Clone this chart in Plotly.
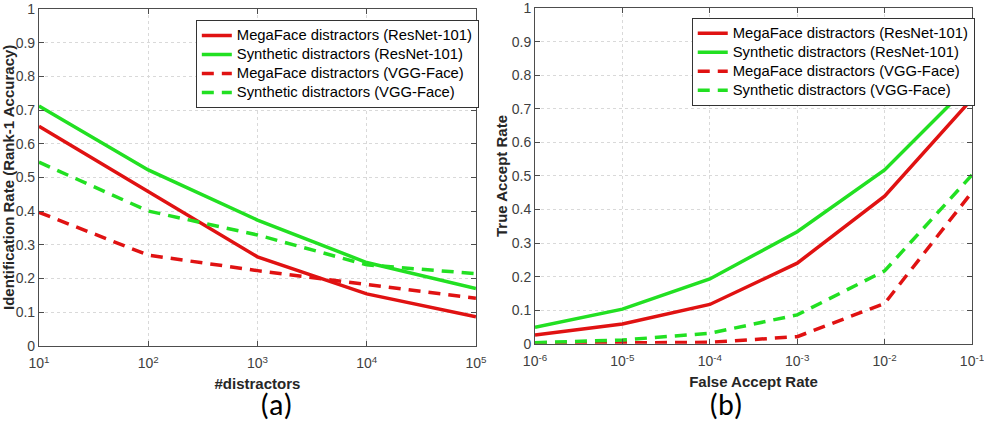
import plotly.graph_objects as go

# (a) identification rate vs number of distractors
distractors = [1e1, 1e2, 1e3, 1e4, 1e5]
ident_mega_resnet = [0.652, 0.457, 0.264, 0.154, 0.086]
ident_synth_resnet = [0.712, 0.522, 0.373, 0.247, 0.170]
ident_mega_vgg = [0.396, 0.269, 0.223, 0.183, 0.141]
ident_synth_vgg = [0.545, 0.400, 0.329, 0.240, 0.214]

# (b) true accept rate vs false accept rate
far = [1e-6, 1e-5, 1e-4, 1e-3, 1e-2, 1e-1]
tar_mega_resnet = [0.026, 0.059, 0.117, 0.240, 0.440, 0.730]
tar_synth_resnet = [0.049, 0.103, 0.193, 0.334, 0.518, 0.779]
tar_mega_vgg = [0.001, 0.002, 0.004, 0.021, 0.120, 0.452]
tar_synth_vgg = [0.003, 0.011, 0.031, 0.086, 0.217, 0.503]

series_names = [
    "MegaFace distractors (ResNet-101)",
    "Synthetic distractors (ResNet-101)",
    "MegaFace distractors (VGG-Face)",
    "Synthetic distractors (VGG-Face)",
]
RED = "#e01212"
GREEN = "#22e022"
styles = [(RED, "solid"), (GREEN, "solid"), (RED, "12px,8px"), (GREEN, "12px,8px")]

fig = go.Figure()

# legend rows are tighter than plotly's default, so the entry text is sized inline
def legend_label(s):
    return '<span style="font-size:14.8px">%s</span>' % s

left = [ident_mega_resnet, ident_synth_resnet, ident_mega_vgg, ident_synth_vgg]
for name, ys, (col, dash) in zip(series_names, left, styles):
    fig.add_trace(go.Scatter(x=distractors, y=ys, mode="lines", name=legend_label(name),
                             line=dict(color=col, width=3.5, dash=dash),
                             xaxis="x", yaxis="y", legend="legend"))

right = [tar_mega_resnet, tar_synth_resnet, tar_mega_vgg, tar_synth_vgg]
for name, ys, (col, dash) in zip(series_names, right, styles):
    fig.add_trace(go.Scatter(x=far, y=ys, mode="lines", name=legend_label(name),
                             line=dict(color=col, width=3.5, dash=dash),
                             xaxis="x2", yaxis="y2", legend="legend2"))

AX = "#4d4d4d"
common_axis = dict(showline=True, linecolor=AX, linewidth=1, mirror="allticks",
                   ticks="inside", ticklen=5, tickcolor=AX, automargin=False,
                   ticklabeloverflow="allow",
                   showgrid=True, gridcolor="#d9d9d9", griddash="dot", gridwidth=1,
                   zeroline=False, tickfont=dict(size=14, color="#404040"))
title_font = dict(size=15, color="#262626")
label_font = dict(size=30, family="Carlito, Calibri, Lato, sans-serif", color="#000")
legend_style = dict(xanchor="left", yanchor="top", bgcolor="white",
                    bordercolor="#333333", borderwidth=1,
                    font=dict(size=12, color="#000000"), tracegroupgap=0)

fig.update_layout(
    width=984, height=425,
    margin=dict(l=0, r=0, t=0, b=0, autoexpand=False),
    paper_bgcolor="white", plot_bgcolor="white",
    font=dict(family="Liberation Sans, Arial, sans-serif", color="#262626"),
    xaxis=dict(type="log", domain=[0.0396, 0.4837], anchor="y", range=[1, 5],
               tickvals=distractors, ticklabelstandoff=5,
               ticktext=["10<sup>%d</sup>" % k for k in range(1, 6)],
               title=dict(text="<b>#distractors</b>", font=title_font, standoff=8),
               **common_axis),
    yaxis=dict(domain=[0.1866, 0.9788], anchor="x", range=[0, 1], dtick=0.1,
               title=dict(text="<b>Identification Rate (Rank-1 Accuracy)</b>",
                          font=title_font, standoff=2),
               **common_axis),
    xaxis2=dict(type="log", domain=[0.5437, 0.9878], anchor="y2", range=[-6, -1],
                tickvals=far, ticklabelstandoff=5,
                ticktext=["10<sup>%d</sup>" % k for k in range(-6, 0)],
                title=dict(text="<b>False Accept Rate</b>", font=title_font, standoff=8),
                **common_axis),
    yaxis2=dict(domain=[0.1913, 0.9805], anchor="x2", range=[0, 1], dtick=0.1,
                title=dict(text="<b>True Accept Rate</b>", font=title_font, standoff=0),
                **common_axis),
    legend=dict(x=0.199, y=0.953, **legend_style),
    legend2=dict(x=0.703, y=0.958, **legend_style),
    annotations=[
        dict(text="(a)", x=0.262, y=0.0, xref="paper", yref="paper", yanchor="bottom",
             showarrow=False, font=label_font),
        dict(text="(b)", x=0.757, y=0.0, xref="paper", yref="paper", yanchor="bottom",
             showarrow=False, font=label_font),
    ],
)

fig.write_html("out.html", config={"displayModeBar": False},
               post_script="document.body.style.margin='0';document.body.style.overflow='hidden';")
